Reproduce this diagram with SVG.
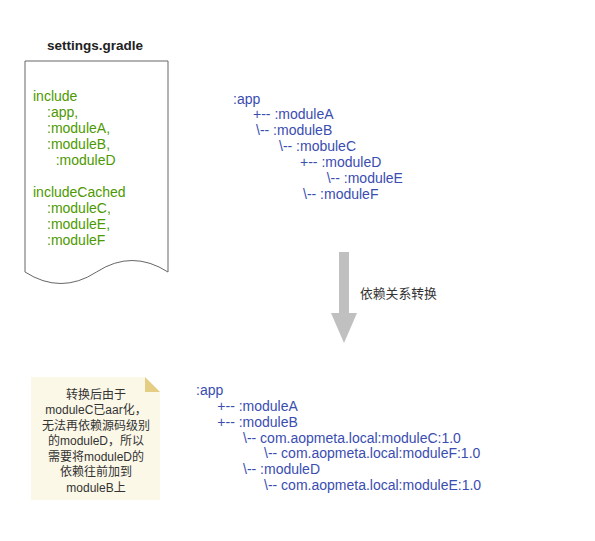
<svg xmlns="http://www.w3.org/2000/svg" width="595" height="541" viewBox="0 0 595 541">
<style>
.t{font-family:"Liberation Sans",Arial,sans-serif;font-size:14px;white-space:pre}
.g{fill:#4D9900}
.b{fill:#3A4DB0}
.n{font-family:"Liberation Sans","Noto Sans CJK SC",sans-serif;font-size:12px;fill:#333333;text-anchor:middle}
</style>
<rect width="595" height="541" fill="#ffffff"/>
<g id="settings">
<text x="95" y="50" font-family="Liberation Sans,Arial,sans-serif" font-size="13.5" font-weight="bold" fill="#222222" text-anchor="middle">settings.gradle</text>
<path d="M25,61 H168 V272 Q132,249 96.5,272 Q61,295 25,272 Z" fill="#ffffff" stroke="#666666" stroke-width="1"/>
<text class="t g" xml:space="preserve"><tspan x="33" y="101">include</tspan><tspan x="47" y="117">:app,</tspan><tspan x="47" y="133">:moduleA,</tspan><tspan x="47" y="149">:moduleB,</tspan><tspan x="55.7" y="165">:moduleD</tspan><tspan x="33" y="197">includeCached</tspan><tspan x="47" y="213">:moduleC,</tspan><tspan x="47" y="229">:moduleE,</tspan><tspan x="47" y="245">:moduleF</tspan></text>
</g>
<g id="tree-before">
<text class="t b" xml:space="preserve"><tspan x="233" y="103.5">:app</tspan><tspan x="253" y="119.3">+-- :moduleA</tspan><tspan x="256" y="135">\-- :moduleB</tspan><tspan x="279" y="151">\-- :mobuleC</tspan><tspan x="300" y="167">+-- :moduleD</tspan><tspan x="326.7" y="182.7">\-- :moduleE</tspan><tspan x="303" y="198.5">\-- :moduleF</tspan></text>
</g>
<g id="connectors">
<path d="M339,252 H349 V313 H357 L344,343 L331,313 H339 Z" fill="#C0C0C0"/>
<text x="360" y="297.5" font-family="Liberation Sans,Noto Sans CJK SC,sans-serif" font-size="12.8" fill="#333333">依赖关系转换</text>
</g>
<g id="note">
<path d="M31,377 H145 L160,392 V500 H31 Z" fill="#FBF8E8"/>
<path d="M145,377 V392 H160 Z" fill="#E6CD84"/>
<text class="n"><tspan x="96" y="398.5">转换后由于</tspan><tspan x="96" y="414">moduleC已aar化，</tspan><tspan x="96" y="429.5">无法再依赖源码级别</tspan><tspan x="96" y="445">的moduleD，所以</tspan><tspan x="96" y="460.5">需要将moduleD的</tspan><tspan x="96" y="476">依赖往前加到</tspan><tspan x="96" y="491.5">moduleB上</tspan></text>
</g>
<g id="tree-after">
<text class="t b" xml:space="preserve"><tspan x="196" y="395">:app</tspan><tspan x="217.3" y="410.8">+-- :moduleA</tspan><tspan x="217.3" y="426.7">+-- :moduleB</tspan><tspan x="243" y="442.5">\-- com.aopmeta.local:moduleC:1.0</tspan><tspan x="264" y="458.3">\-- com.aopmeta.local:moduleF:1.0</tspan><tspan x="243" y="474.2">\-- :moduleD</tspan><tspan x="264" y="490">\-- com.aopmeta.local:moduleE:1.0</tspan></text>
</g>
</svg>
